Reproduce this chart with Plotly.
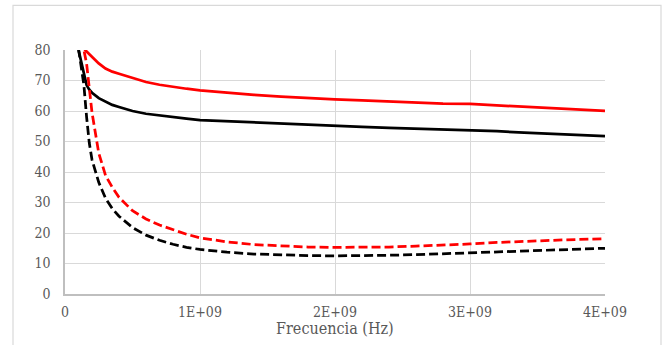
import plotly.graph_objects as go

# Frequency (units of 1E+09 Hz)
freq_ghz = [0.10, 0.12, 0.14, 0.16, 0.18, 0.20, 0.25, 0.30, 0.35, 0.40, 0.50, 0.60,
            0.70, 0.80, 0.90, 1.0, 1.2, 1.4, 1.6, 1.8, 2.0, 2.2, 2.4, 2.6, 2.8, 3.0,
            3.2, 3.4, 3.6, 3.8, 4.0]

red_solid = [None, 84.0, 80.5, 79.5, 78.6, 77.7, 75.6, 73.9, 72.9, 72.2, 70.8, 69.5,
             68.6, 67.9, 67.3, 66.8, 66.0, 65.3, 64.7, 64.2, 63.8, 63.5, 63.1, 62.7,
             62.4, 62.3, 61.8, 61.3, 60.8, 60.4, 60.0]

black_solid = [80.0, 76.0, 72.0, 68.5, 67.0, 66.0, 64.2, 63.0, 62.0, 61.3, 60.0, 59.1,
               58.5, 58.0, 57.5, 57.0, 56.6, 56.2, 55.8, 55.4, 55.1, 54.8, 54.5, 54.2,
               54.0, 53.8, 53.4, 52.9, 52.5, 52.1, 51.8]

red_dashed = [None, 88.0, 80.0, 75.5, 67.5, 59.5, 46.2, 38.9, 35.0, 31.7, 27.3, 24.6,
              22.6, 21.0, 19.6, 18.4, 17.1, 16.2, 15.7, 15.4, 15.3, 15.3, 15.4, 15.7,
              16.0, 16.4, 16.9, 17.3, 17.6, 17.9, 18.1]

black_dashed = [80.5, 75.0, 68.5, 58.0, 49.5, 44.0, 36.6, 31.4, 28.0, 25.5, 21.8, 19.3,
                17.6, 16.3, 15.3, 14.6, 13.7, 13.1, 12.8, 12.6, 12.5, 12.5, 12.7, 12.9,
                13.2, 13.5, 13.9, 14.3, 14.6, 14.8, 15.0]

x_tick_vals = [0, 1e9, 2e9, 3e9, 4e9]
x_tick_text = ["0", "1E+09", "2E+09", "3E+09", "4E+09"]
y_tick_vals = [0, 10, 20, 30, 40, 50, 60, 70, 80]

freq_hz = [f * 1e9 for f in freq_ghz]

fig = go.Figure()
series = [
    (red_solid, "#ff0000", "solid"),
    (black_solid, "#000000", "solid"),
    (red_dashed, "#ff0000", "9px,4px"),
    (black_dashed, "#000000", "9px,4px"),
]
for vals, color, dash in series:
    fig.add_trace(go.Scatter(x=freq_hz, y=vals, mode="lines",
                             line=dict(color=color, width=2.75, dash=dash),
                             showlegend=False, connectgaps=False))

font_family = "DejaVu Serif Condensed, DejaVu Serif"
grid = "#d9d9d9"
tick_font = dict(family=font_family, size=14, color="#595959")

fig.update_layout(
    width=667, height=345,
    margin=dict(l=65, r=62, t=50, b=51),
    paper_bgcolor="white", plot_bgcolor="white",
    font=dict(family=font_family, size=14, color="#595959"),
)
fig.update_xaxes(range=[0, 4e9], tickvals=x_tick_vals, ticktext=x_tick_text,
                 showgrid=True, gridcolor=grid, gridwidth=1.3,
                 showline=True, linecolor="#bfbfbf", linewidth=1.5,
                 zeroline=False, ticks="", ticklabelstandoff=4, tickfont=tick_font)
fig.update_yaxes(range=[0, 80], tickvals=y_tick_vals,
                 showgrid=True, gridcolor=grid, gridwidth=1.3,
                 showline=True, linecolor="#bfbfbf", linewidth=1.5,
                 zeroline=False, ticks="", ticklabelstandoff=10, tickfont=tick_font)
fig.add_annotation(text="Frecuencia (Hz)", xref="paper", yref="paper",
                   x=0.5, y=-0.143, xanchor="center", yanchor="middle",
                   showarrow=False,
                   font=dict(family=font_family, size=16, color="#595959"))
fig.add_shape(type="rect", xref="paper", yref="paper",
              x0=-0.0963, x1=1.1037, y0=-0.3, y1=1.1828,
              line=dict(color="#d9d9d9", width=1.2), layer="below")

fig.write_html("out.html")
